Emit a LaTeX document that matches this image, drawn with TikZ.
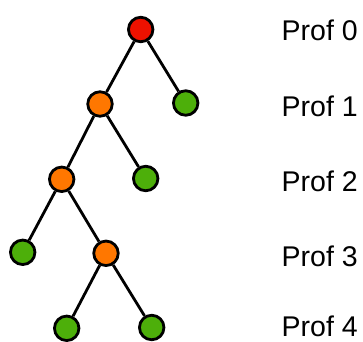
\documentclass[tikz,border=0pt]{standalone}
\usepackage{fontspec}
\setmainfont{Liberation Sans}

\definecolor{rootred}{RGB}{238,17,0}
\definecolor{innerorange}{RGB}{255,119,0}
\definecolor{leafgreen}{RGB}{77,175,10}

\tikzset{
  vertex/.style={circle,draw=black,line width=2.8pt,inner sep=0pt,minimum size=24.5pt},
  root/.style={vertex,fill=rootred},
  inner/.style={vertex,fill=innerorange},
  leaf/.style={vertex,fill=leafgreen},
  edge/.style={draw=black,line width=2.8pt},
  depth/.style={anchor=base west,inner sep=0pt,text depth=0pt,font=\fontsize{28.5}{34}\selectfont}
}

\begin{document}
\begin{tikzpicture}[x=1pt,y=-1pt]
           \useasboundingbox (0,0) rectangle (363,341);
           \node[root] (a) at (140.7,29.5) {};
           \node[inner] (b) at (100,104) {};
           \node[leaf] (c) at (185.7,103) {};
           \node[inner] (d) at (61.7,179.3) {};
           \node[leaf] (e) at (145.7,178.5) {};
           \node[leaf] (f) at (22.7,252.3) {};
           \node[inner] (g) at (106,253.3) {};
           \node[leaf] (h) at (66.7,328.3) {};
           \node[leaf] (i) at (151.7,327.5) {};
           \draw[edge] (a) -- (b);
           \draw[edge] (a) -- (c);
           \draw[edge] (b) -- (d);
           \draw[edge] (b) -- (e);
           \draw[edge] (d) -- (f);
           \draw[edge] (d) -- (g);
           \draw[edge] (g) -- (h);
           \draw[edge] (g) -- (i);
           \node[depth] (p0) at (281.5,40.7) {Prof 0};
           \node[depth] (p1) at (281.5,116) {Prof 1};
           \node[depth] (p2) at (281.5,191.5) {Prof 2};
           \node[depth] (p3) at (281.5,266) {Prof 3};
           \node[depth] (p4) at (281.5,336.5) {Prof 4};
        \end{tikzpicture}
\end{document}
